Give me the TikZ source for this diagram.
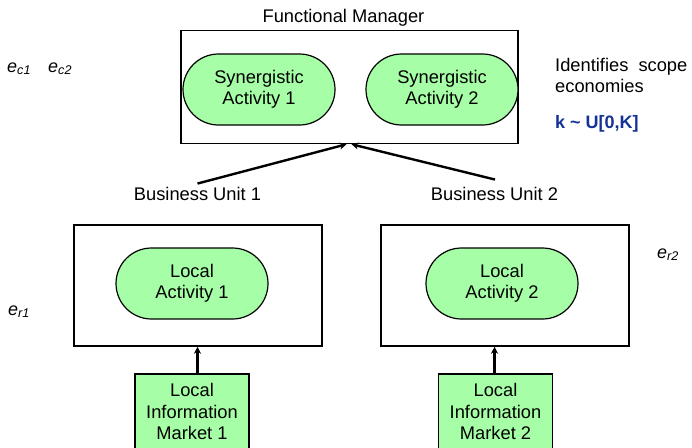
\documentclass[tikz,border=0pt]{standalone}
\usepackage{fontspec}
\setmainfont{Liberation Sans}
\usetikzlibrary{arrows.meta,positioning,shapes.misc}

\definecolor{actgreen}{RGB}{166,255,166}
\definecolor{kblue}{RGB}{20,50,150}

\begin{document}
\begin{tikzpicture}[
  x=1pt,y=-1pt,
  >=Stealth,
  every node/.style={font=\fontsize{18.3}{21.5}\selectfont},
  container/.style={draw,line width=1.5pt,inner sep=0pt},
  activity/.style={rounded rectangle,draw,fill=actgreen,line width=1.2pt,
    minimum width=152pt,minimum height=71pt,inner sep=0pt,align=center},
  market/.style={draw,fill=actgreen,line width=1.5pt,minimum width=114pt,
    inner xsep=2pt,inner ysep=9.5pt,align=center},
  feed/.style={-{Stealth[length=7pt,width=7pt]},line width=2.4pt},
  param/.style={font=\fontsize{18}{21.5}\selectfont\itshape,inner sep=0pt,anchor=base west}
]
\useasboundingbox (0,0) rectangle (692,447);
\clip (0,0) rectangle (692,447);

% functional manager
\node[container,minimum width=337pt,minimum height=113pt] (fm) at (349.5,87) {};
\node[anchor=base,inner sep=0pt] (fmlbl) at (343.5,22) {Functional Manager};
\node[activity] (syn1) at (259,89.5) {Synergistic\\Activity 1};
\node[activity] (syn2) at (442,89.5) {Synergistic\\Activity 2};

% business units
\node[anchor=base,inner sep=0pt] (bu1lbl) at (197.5,200) {Business Unit 1};
\node[anchor=base,inner sep=0pt] (bu2lbl) at (494.5,200) {Business Unit 2};
\node[container,minimum width=248pt,minimum height=121pt] (bu1) at (198,285.5) {};
\node[container,minimum width=248pt,minimum height=121pt] (bu2) at (505,285.5) {};
\node[activity] (loc1) at (192,283.5) {Local\\Activity 1};
\node[activity] (loc2) at (502,283.5) {Local\\Activity 2};

% information markets
\node[market,anchor=north] (mkt1) at (192,373) {Local\\Information\\Market 1};
\node[market,anchor=north] (mkt2) at (495.5,373) {Local\\Information\\Market 2};

\draw[feed] ([yshift=3pt]bu1lbl.north) -- ([xshift=-3pt]fm.south);
\draw[feed] ([xshift=0.5pt,yshift=7pt]bu2lbl.north) -- ([xshift=2pt]fm.south);
\draw[feed] (mkt1.north -| bu1lbl) -- (bu1.south -| bu1lbl);
\draw[feed] (mkt2.north -| bu2lbl) -- (bu2.south -| bu2lbl);

% error terms
\node[param] (ec1) at (7,72) {e\textsubscript{c1}};
\node[param] (ec2) at (48,72) {e\textsubscript{c2}};
\node[param] (er1) at (8,315) {e\textsubscript{r1}};
\node[param] (er2) at (657,258) {e\textsubscript{r2}};

\node[anchor=north west,inner sep=0pt,align=left] (scope) at (555,58)
  {Identifies\hspace{0.55em}scope\\economies};
\node[anchor=base west,inner sep=0pt,text=kblue,font=\fontsize{18}{21.5}\selectfont\bfseries]
  (kdist) at (555,128) {k \textasciitilde{} U[0,K]};
\end{tikzpicture}
\end{document}
